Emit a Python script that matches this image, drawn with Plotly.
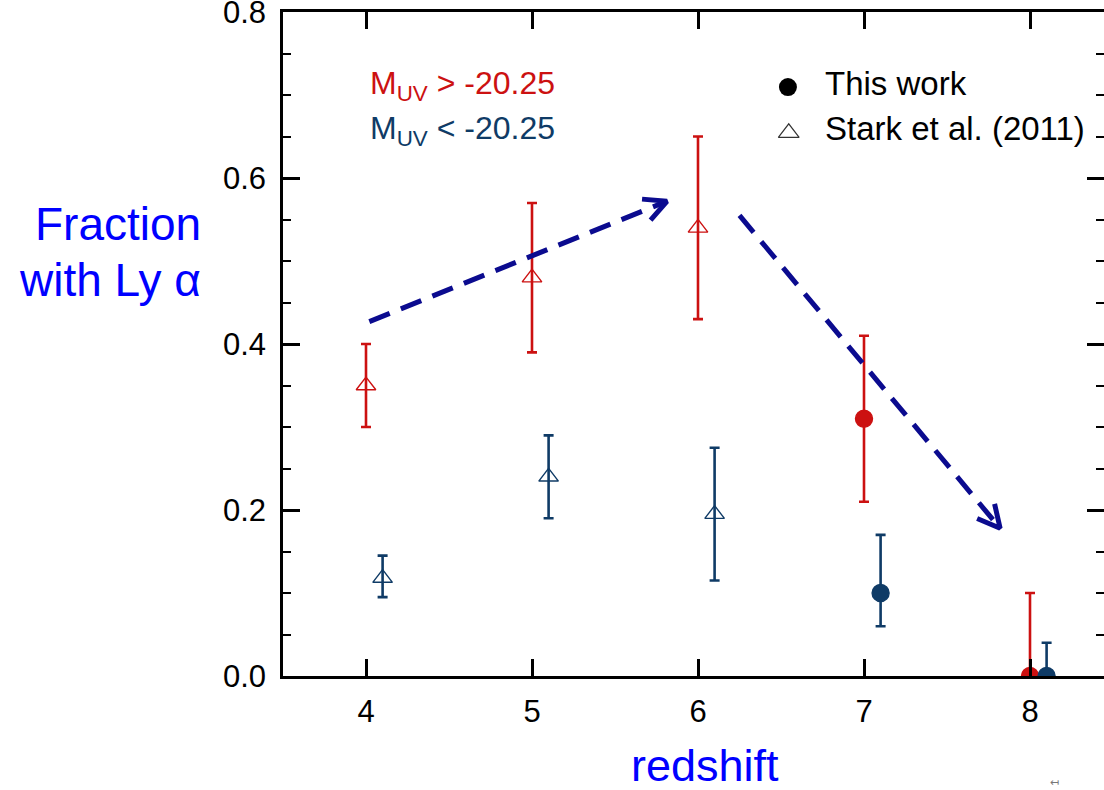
import math
import plotly.graph_objects as go

# ---------------- data ----------------
z_faint = [4, 5, 6, 7, 8]
f_faint = [0.35, 0.48, 0.54, 0.31, 0.0]
f_faint_hi = [0.40, 0.57, 0.65, 0.41, 0.10]
f_faint_lo = [0.30, 0.39, 0.43, 0.21, 0.0]

z_bright = [4.1, 5.1, 6.1, 7.1, 8.1]
f_bright = [0.118, 0.24, 0.195, 0.10, 0.0]
f_bright_hi = [0.145, 0.29, 0.275, 0.17, 0.04]
f_bright_lo = [0.095, 0.19, 0.115, 0.06, 0.0]

source = ["Stark et al. (2011)", "Stark et al. (2011)", "Stark et al. (2011)", "This work", "This work"]

x_ticks = [4, 5, 6, 7, 8]
y_ticks = [0.0, 0.2, 0.4, 0.6, 0.8]

# trend arrows (start -> tip), in data units
arrow_starts = [(4.02, 0.427), (6.25, 0.555)]
arrow_tips = [(5.813, 0.572), (7.82, 0.178)]

# ---------------- style ----------------
RED = "#cc1111"
NAVY = "#0f3b66"
ARROW = "#0b0b8f"
TITLE_BLUE = "#0000ff"
FONT = "Arial, Liberation Sans, Helvetica, sans-serif"

W, H = 1104, 790
ML, MR, MT, MB = 283, 0, 12, 114
PX_PER_X = 166.0
X0 = 3.5
X1 = X0 + (W - ML - MR) / PX_PER_X
Y0, Y1 = 0.0, 0.8
PX_PER_Y = (H - MT - MB) / (Y1 - Y0)

sym = ["triangle-up-open" if s.startswith("Stark") else "circle" for s in source]
size = [17 if s.startswith("Stark") else 17 for s in source]

fig = go.Figure()


def add_series(x, y, hi, lo, color):
    fig.add_trace(go.Scatter(
        x=x, y=y, mode="markers",
        marker=dict(symbol=sym, size=size, color=color, opacity=1,
                    line=dict(color=color, width=1.4)),
        error_y=dict(type="data", symmetric=False,
                     array=[h - v for h, v in zip(hi, y)],
                     arrayminus=[v - l for v, l in zip(y, lo)],
                     color=color, thickness=2.6, width=5),
        showlegend=False, hoverinfo="skip",
    ))


add_series(z_faint, f_faint, f_faint_hi, f_faint_lo, RED)
add_series(z_bright, f_bright, f_bright_hi, f_bright_lo, NAVY)

# dashed arrows
for (xs, ys), (xt, yt) in zip(arrow_starts, arrow_tips):
    fig.add_trace(go.Scatter(x=[xs, xt], y=[ys, yt], mode="lines",
                             line=dict(color=ARROW, width=5, dash="22px,12px"),
                             showlegend=False, hoverinfo="skip"))
    # arrow head computed in pixel space
    dxp = (xt - xs) * PX_PER_X
    dyp = -(yt - ys) * PX_PER_Y
    n = math.hypot(dxp, dyp)
    bx, by = -dxp / n, -dyp / n
    L = 25
    pts = []
    for ang in (27, -27):
        a = math.radians(ang)
        rx = bx * math.cos(a) - by * math.sin(a)
        ry = bx * math.sin(a) + by * math.cos(a)
        pts.append((xt + L * rx / PX_PER_X, yt - L * ry / PX_PER_Y))
    fig.add_trace(go.Scatter(x=[pts[0][0], xt, pts[1][0]], y=[pts[0][1], yt, pts[1][1]],
                             mode="lines", line=dict(color=ARROW, width=5),
                             showlegend=False, hoverinfo="skip"))

# legend keys on an overlay axis (0..1)
fig.add_trace(go.Scatter(x=[0.615], y=[0.887], xaxis="x2", yaxis="y2", mode="markers",
                         marker=dict(symbol="circle", size=18, color="black", opacity=1),
                         showlegend=False, hoverinfo="skip"))
fig.add_trace(go.Scatter(x=[0.616], y=[0.818], xaxis="x2", yaxis="y2", mode="markers",
                         marker=dict(symbol="triangle-up-open", size=18, color="#333333",
                                     line=dict(width=1.2, color="#333333")),
                         showlegend=False, hoverinfo="skip"))

axis_common = dict(showline=True, linecolor="black", linewidth=2.6, mirror="ticks",
                   ticks="inside", tickcolor="black", tickwidth=2.6, ticklen=17,
                   showgrid=False, zeroline=False, ticklabeloverflow="allow",
                   automargin=False,
                   tickfont=dict(family=FONT, size=31, color="black"))

fig.update_layout(
    width=W, height=H,
    margin=dict(l=ML, r=MR, t=MT, b=MB, autoexpand=False),
    paper_bgcolor="white", plot_bgcolor="white",
    xaxis=dict(range=[X0, X1], tickvals=x_ticks, ticktext=[str(v) for v in x_ticks],
               ticklabelstandoff=6, **axis_common),
    yaxis=dict(range=[Y0, Y1 + 1e-4], tickvals=y_ticks, ticktext=[f"{v:.1f}" for v in y_ticks],
               ticklabelstandoff=8,
               minor=dict(dtick=0.05, tick0=0, ticks="inside", ticklen=8, tickwidth=2.2,
                          tickcolor="black", showgrid=False),
               **axis_common),
    xaxis2=dict(range=[0, 1], overlaying="x", visible=False),
    yaxis2=dict(range=[0, 1], overlaying="y", visible=False),
    showlegend=False,
)

ann = []
ann.append(dict(text="M<sub>UV</sub> > -20.25", x=0.1035, y=0.890, xref="paper", yref="paper",
                xanchor="left", yanchor="middle", showarrow=False,
                font=dict(family=FONT, size=32, color=RED)))
ann.append(dict(text="M<sub>UV</sub> < -20.25", x=0.1035, y=0.822, xref="paper", yref="paper",
                xanchor="left", yanchor="middle", showarrow=False,
                font=dict(family=FONT, size=32, color=NAVY)))
ann.append(dict(text="This work", x=0.658, y=0.893, xref="paper", yref="paper",
                xanchor="left", yanchor="middle", showarrow=False,
                font=dict(family=FONT, size=33, color="black")))
ann.append(dict(text="Stark et al. (2011)", x=0.658, y=0.824, xref="paper", yref="paper",
                xanchor="left", yanchor="middle", showarrow=False,
                font=dict(family=FONT, size=33, color="black")))
ann.append(dict(text="Fraction", x=-0.0974, y=0.681, xref="paper", yref="paper",
                xanchor="right", yanchor="middle", showarrow=False,
                font=dict(family=FONT, size=46, color=TITLE_BLUE)))
ann.append(dict(text="with Ly α", x=-0.0974, y=0.596, xref="paper", yref="paper",
                xanchor="right", yanchor="middle", showarrow=False,
                font=dict(family=FONT, size=46, color=TITLE_BLUE)))
ann.append(dict(text="redshift", x=0.514, y=-0.135, xref="paper", yref="paper",
                xanchor="center", yanchor="middle", showarrow=False,
                font=dict(family=FONT, size=45, color=TITLE_BLUE)))
ann.append(dict(text="↤", x=0.94, y=-0.16, xref="paper", yref="paper",
                xanchor="center", yanchor="middle", showarrow=False,
                font=dict(family=FONT, size=11, color="#777777")))
fig.update_layout(annotations=ann)

fig.write_html("out.html")
